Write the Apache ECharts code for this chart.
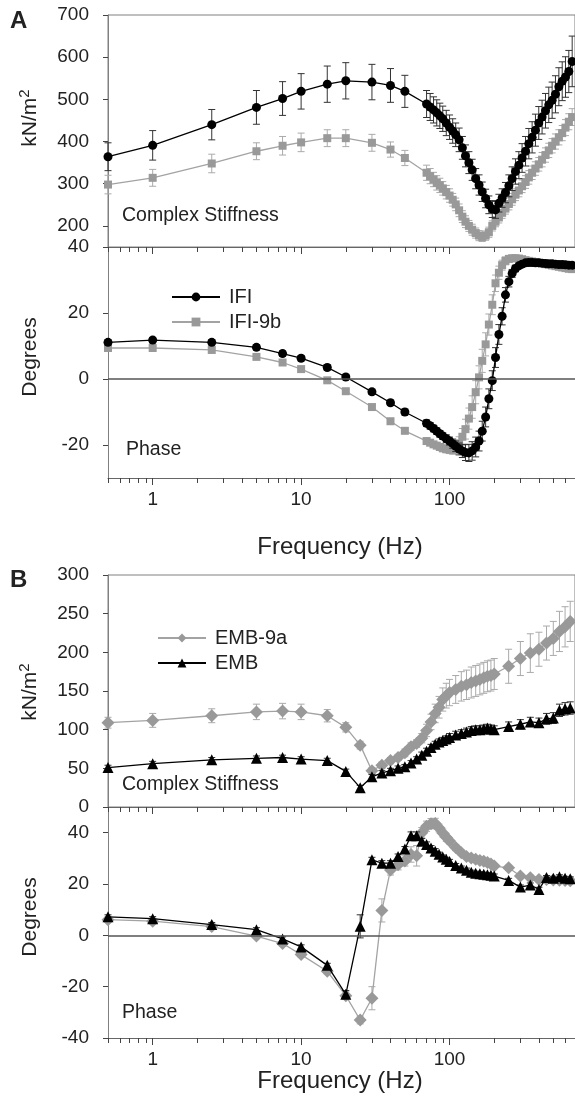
<!DOCTYPE html>
<html>
<head>
<meta charset="utf-8">
<title>Complex stiffness and phase</title>
<script src="https://cdn.jsdelivr.net/npm/echarts@6/dist/echarts.min.js"></script>
<style>
  html, body { margin: 0; padding: 0; background: #fff; }
  #chart { width: 575px; height: 1100px; }
</style>
</head>
<body>
<div id="chart"></div>
<script>
// ---- panel A: IFI / IFI-9b ----
const freqA = [0.5, 1, 2.5, 5, 7.5, 10, 15, 20, 30, 40, 50,
  70, 74, 78, 82, 86, 90, 95, 100, 105, 110,
  116, 122, 128, 135, 142, 150, 158, 166, 175, 184,
  194, 204, 215, 226, 238, 251, 264, 278, 293, 308,
  325, 342, 360, 379, 399, 420, 443, 466, 491, 517,
  545, 574, 604, 636, 670]

const ifiStiff = [364, 391, 440, 481, 502, 519, 536, 544, 541, 533, 519,
  489, 482, 475, 468, 461, 454, 444, 434, 425, 416,
  404, 385, 366, 350, 333, 312, 297, 281, 265, 250,
  240, 238, 254, 266, 279, 295, 312, 329, 344, 361,
  377, 395, 410, 427, 444, 458, 473, 487, 498, 512,
  530, 543, 553, 566, 590]
const ifiStiffErr = [33, 35, 36, 40, 40, 42, 43, 43, 42, 40, 38,
  32, 32, 31, 31, 30, 30, 30, 29, 29, 28,
  28, 27, 26, 26, 25, 24, 24, 23, 22, 21,
  20, 20, 21, 22, 24, 26, 28, 30, 32, 34,
  35, 36, 37, 38, 39, 40, 41, 42, 43, 44,
  45, 46, 48, 50, 60]

const ifi9bStiff = [298, 314, 348, 377, 390, 398, 408, 408, 397, 381, 361,
  326, 318, 310, 302, 296, 289, 280, 272, 262, 251,
  237, 222, 210, 200, 191, 183, 177, 174, 177, 185,
  200, 210, 220, 231, 241, 252, 263, 274, 284, 294,
  304, 315, 326, 336, 346, 357, 368, 379, 390, 400,
  410, 420, 433, 447, 458]
const ifi9bStiffErr = [22, 20, 22, 20, 22, 22, 20, 20, 20, 18, 18,
  18, 18, 17, 17, 17, 16, 16, 16, 15, 15,
  15, 14, 14, 13, 13, 12, 12, 11, 11, 12,
  12, 12, 13, 13, 13, 14, 14, 14, 15, 15,
  15, 16, 16, 16, 16, 17, 17, 17, 17, 18,
  18, 18, 19, 19, 20]

const ifiPhase = [11.1, 11.8, 11.1, 9.6, 7.7, 6.3, 3.5, 0.6, -3.9, -7.2, -10.0,
  -13.4, -14.2, -15.0, -15.8, -16.6, -17.3, -18.1, -18.8, -19.6, -20.4,
  -21.2, -21.8, -22.3, -22.4, -21.8, -20.6, -18.8, -15.8, -11.5, -6.0,
  -0.5, 6.5, 13.5, 19.0, 25.5, 29.5, 32.0, 33.5, 34.3, 34.8,
  35.2, 35.3, 35.3, 35.2, 35.2, 35.1, 35.0, 34.9, 34.9, 34.8,
  34.7, 34.7, 34.6, 34.5, 34.5]
const ifiPhaseErr = [0.8, 0.8, 0.8, 0.8, 0.8, 0.8, 0.8, 0.8, 0.8, 0.8, 0.9,
  1, 1, 1, 1, 1, 1, 1.2, 1.2, 1.4, 1.6,
  1.8, 2, 2.4, 2.6, 2.8, 3, 3, 3, 3, 3,
  3, 3, 3, 2.6, 2.2, 1.6, 1.2, 1, 0.8, 0.8,
  0.6, 0.6, 0.6, 0.6, 0.6, 0.6, 0.6, 0.6, 0.6, 0.6,
  0.6, 0.6, 0.6, 0.6, 0.6]

const ifi9bPhase = [9.4, 9.4, 8.8, 6.7, 5.0, 3.0, -0.4, -3.7, -8.5, -12.8, -15.7,
  -18.8, -19.3, -19.8, -20.2, -20.6, -21.0, -21.3, -21.4, -21.4, -21.0,
  -19.5, -17.5, -15.2, -12.0, -8.5, -4.0, 0.5, 5.5, 10.5, 16.5,
  22.5, 29.0, 32.2, 34.5, 35.8, 36.4, 36.6, 36.6, 36.5, 36.3,
  36.0, 35.8, 35.6, 35.4, 35.2, 35.0, 34.8, 34.6, 34.4, 34.2,
  34.0, 33.8, 33.6, 33.4, 33.3]
const ifi9bPhaseErr = [0.6, 0.6, 0.6, 0.6, 0.6, 0.6, 0.6, 0.6, 0.6, 0.6, 0.6,
  0.8, 0.8, 0.8, 0.8, 0.8, 1, 1, 1.2, 1.4, 1.6,
  2, 2.5, 3, 3.2, 3.4, 3.5, 3.5, 3.5, 3.5, 3.2,
  3, 2.5, 2, 1.5, 1.2, 1, 0.8, 0.8, 0.6, 0.6,
  0.6, 0.6, 0.6, 0.6, 0.6, 0.6, 0.6, 0.6, 0.6, 0.6,
  0.6, 0.6, 0.6, 0.6, 0.6]

// ---- panel B: EMB-9a / EMB ----
const freqB = [0.5, 1, 2.5, 5, 7.5, 10, 15, 20, 25, 30,
  35, 40, 45, 50, 55, 60, 65, 70, 75, 80,
  85, 90, 95, 100, 110, 120, 130, 140, 150, 160,
  170, 180, 190, 200, 250, 300, 350, 400, 450, 500,
  550, 600, 650]

const emb9aStiff = [109, 112, 118, 123, 124, 123, 118, 103, 80, 47,
  54, 60, 64, 70, 78, 82, 89, 99, 110, 121,
  129, 139, 144, 148, 152, 156, 158, 161, 163, 165,
  167, 169, 170, 172, 182, 192, 199, 204, 212, 218,
  227, 233, 240]
const emb9aStiffErr = [7, 9, 9, 10, 10, 10, 8, 6, 5, 4,
  4, 4, 4, 5, 5, 5, 6, 8, 10, 12,
  14, 15, 16, 17, 18, 19, 19, 20, 20, 20,
  20, 20, 20, 20, 22, 22, 25, 22, 22, 22,
  26, 26, 26]

const embStiff = [51, 56, 61, 63, 64, 62, 60, 46, 25, 39,
  44, 47, 50, 52, 57, 62, 67, 72, 77, 81,
  84, 86, 88, 90, 93, 95, 97, 99, 100, 100,
  101, 102, 101, 100, 104, 107, 110, 109, 114, 115,
  125, 127, 128]
const embStiffErr = [3, 3, 3, 3, 3, 3, 3, 3, 3, 3,
  3, 3, 3, 3, 3, 3, 4, 4, 4, 4,
  4, 4, 4, 5, 5, 5, 5, 5, 5, 5,
  5, 5, 5, 5, 6, 6, 6, 6, 7, 7,
  8, 8, 8]

const emb9aPhase = [6.1, 5.5, 3.4, -0.3, -3.2, -7.5, -14, -23.5, -33, -24.5,
  9.7, 25.5, 27.5, 29, 31.5, 31, 40, 42.5, 43.5, 43.6,
  41.8, 39.9, 38.2, 36.8, 34.2, 32.2, 30.7, 30.1, 29.6, 29.2,
  28.9, 28.4, 27.8, 27, 26.3, 23.1, 22.4, 21.8, 21.8, 21.6,
  21.5, 21.4, 21.3]
const emb9aPhaseErr = [1, 1, 1, 1, 1, 1, 1, 1.5, 1.5, 4.5,
  4.5, 2, 2, 2, 3, 4, 2, 2, 2, 2,
  1.5, 1.5, 1.5, 1.2, 1.2, 1, 1, 1, 1, 1,
  1, 1, 1, 1, 1, 1, 1, 1, 1, 1,
  1, 1, 1]

const embPhase = [7.2, 6.5, 4.2, 2.2, -1.4, -4.5, -11.7, -23, 3.5, 29.4,
  28.1, 28.1, 30.7, 33.6, 38.8, 38.8, 36.7, 35.4, 34, 32.8,
  31.6, 30.5, 29.6, 28.8, 27.2, 26.2, 25.4, 24.6, 24.2, 24,
  23.8, 23.6, 23.4, 23.1, 21.4, 18.8, 19.6, 17.9, 22.5, 22.2,
  22.8, 22.2, 22]
const embPhaseErr = [0.8, 0.8, 0.8, 0.8, 0.8, 0.8, 0.8, 1.5, 4.5, 1,
  1, 1, 1, 1, 1.5, 1.5, 1, 1, 1, 1,
  0.8, 0.8, 0.8, 0.8, 0.8, 0.8, 0.8, 0.8, 0.8, 0.8,
  0.8, 0.8, 0.8, 0.8, 0.8, 0.8, 0.8, 0.8, 0.8, 0.8,
  0.8, 0.8, 0.8]

// ---- tick labels ----
const xMajorTicks = [1, 10, 100]
const xMinorTicks = [0.5, 0.6, 0.7, 0.8, 0.9, 2, 3, 4, 5, 6, 7, 8, 9,
  20, 30, 40, 50, 60, 70, 80, 90, 200, 300, 400, 500, 600, 700]
const yTicksStiffA = [200, 300, 400, 500, 600, 700]
const yTicksPhaseA = [-20, 0, 20, 40]
const yTicksStiffB = [0, 50, 100, 150, 200, 250, 300]
const yTicksPhaseB = [-40, -20, 0, 20, 40]

const FONT = '"Liberation Sans", Arial, sans-serif'
const TEXT = '#222'
const AXIS = '#808080'
const TICK = '#444'
const BLACK = '#000'
const GRAY = '#999'
const GRAY_LINE = '#a3a3a3'

const pairs = (freq, vals) => freq.map((f, i) => [f, vals[i]])
const bars = (freq, vals, err) => freq.map((f, i) => [f, vals[i] - err[i], vals[i] + err[i]])

// two log axes per grid: one for the decades (with labels), one for the minor ticks
function xAxes(grid, labelled) {
  return [{
    type: 'log', logBase: 10, gridIndex: grid, min: 0.5, max: 700, position: 'bottom',
    axisLine: { show: true, onZero: false, lineStyle: { color: '#666', width: 1 } },
    axisTick: { show: true, length: 7, customValues: xMajorTicks, lineStyle: { color: TICK, width: 1 } },
    axisLabel: { show: labelled, customValues: xMajorTicks, fontSize: 19, color: TEXT, fontFamily: FONT, margin: 12 },
    splitLine: { show: false }
  }, {
    type: 'log', logBase: 10, gridIndex: grid, min: 0.5, max: 700, position: 'bottom',
    axisLine: { show: false, onZero: false },
    axisTick: { show: true, length: 5, customValues: xMinorTicks, lineStyle: { color: TICK, width: 1 } },
    axisLabel: { show: false, customValues: xMinorTicks },
    splitLine: { show: false }
  }]
}

function yAxis(grid, min, max, ticks) {
  return {
    type: 'value', gridIndex: grid, min, max,
    axisLine: { show: true, onZero: false, lineStyle: { color: AXIS, width: 1 } },
    axisTick: { show: true, length: 5, customValues: ticks, lineStyle: { color: TICK, width: 1 } },
    axisLabel: { customValues: ticks, fontSize: 19, color: TEXT, fontFamily: FONT, margin: 19 },
    splitLine: { show: false }
  }
}

function lineSeries(name, grid, data, symbol, size, color, lineColor, z, extra) {
  return Object.assign({
    type: 'line', name, xAxisIndex: grid * 2, yAxisIndex: grid, data,
    symbol, symbolSize: size, showAllSymbol: true,
    itemStyle: { color, borderWidth: 0 },
    lineStyle: { color: lineColor, width: 1.3 },
    emphasis: { disabled: true },
    z
  }, extra || {})
}

// error bars with caps, placed through the axes of the grid
function errorSeries(grid, data, color, z) {
  return {
    type: 'custom', xAxisIndex: grid * 2, yAxisIndex: grid, data, z, silent: true,
    encode: { x: 0, y: [1, 2] },
    renderItem: (params, api) => {
      const x = api.value(0)
      const top = api.coord([x, api.value(2)])
      const bot = api.coord([x, api.value(1)])
      const w = 3.5
      const style = { stroke: color, lineWidth: 1 }
      return {
        type: 'group',
        children: [
          { type: 'line', shape: { x1: top[0], y1: top[1], x2: bot[0], y2: bot[1] }, style },
          { type: 'line', shape: { x1: top[0] - w, y1: top[1], x2: top[0] + w, y2: top[1] }, style },
          { type: 'line', shape: { x1: bot[0] - w, y1: bot[1], x2: bot[0] + w, y2: bot[1] }, style }
        ]
      }
    }
  }
}

const zeroLine = {
  markLine: {
    silent: true, symbol: 'none', label: { show: false },
    lineStyle: { color: '#555', width: 1.5, type: 'solid' },
    data: [{ yAxis: 0 }]
  }
}

function text(x, y, str, size, opts) {
  const o = opts || {}
  return {
    type: 'text', x, y, rotation: o.rotate ? Math.PI / 2 : 0, silent: true,
    style: {
      text: str, fill: TEXT, fontSize: size, fontFamily: FONT,
      fontWeight: o.bold ? 'bold' : 'normal',
      align: o.align || 'left', textAlign: o.align || 'left',
      verticalAlign: 'middle', textVerticalAlign: 'middle',
      rich: o.rich
    }
  }
}

const unitRich = {
  a: { fontSize: 21, fontFamily: FONT, fill: TEXT, lineHeight: 26 },
  b: { fontSize: 15, fontFamily: FONT, fill: TEXT, verticalAlign: 'top', lineHeight: 26 }
}

const chart = echarts.init(document.getElementById('chart'), null, { renderer: 'canvas' })

const legendBase = {
  orient: 'vertical', itemWidth: 48, itemHeight: 11, itemGap: 5,
  textStyle: { fontSize: 20, color: TEXT, fontFamily: FONT, padding: [0, 0, 0, 4] },
  selectedMode: false
}

chart.setOption({
  animation: false,
  backgroundColor: '#fff',
  grid: [
    { left: 108, top: 15, width: 469, height: 232, show: true, borderColor: AXIS, borderWidth: 1 },
    { left: 108, top: 247, width: 469, height: 231 },
    { left: 108, top: 575, width: 469, height: 232, show: true, borderColor: AXIS, borderWidth: 1 },
    { left: 108, top: 807, width: 469, height: 231 }
  ],
  xAxis: [...xAxes(0, false), ...xAxes(1, true), ...xAxes(2, false), ...xAxes(3, true)],
  yAxis: [
    yAxis(0, 150, 700, yTicksStiffA),
    yAxis(1, -30, 40, yTicksPhaseA),
    yAxis(2, 0, 300, yTicksStiffB),
    yAxis(3, -40, 50, yTicksPhaseB)
  ],
  legend: [
    Object.assign({ data: ['IFI', 'IFI-9b'], left: 166, top: 282 }, legendBase),
    Object.assign({ data: ['EMB-9a', 'EMB'], left: 152, top: 623, itemWidth: 56 }, legendBase)
  ],
  series: [
    // A: complex stiffness
    errorSeries(0, bars(freqA, ifi9bStiff, ifi9bStiffErr), '#aaa', 1),
    lineSeries('IFI-9b', 0, pairs(freqA, ifi9bStiff), 'rect', 8, GRAY, GRAY_LINE, 2),
    errorSeries(0, bars(freqA, ifiStiff, ifiStiffErr), '#333', 3),
    lineSeries('IFI', 0, pairs(freqA, ifiStiff), 'circle', 9, BLACK, BLACK, 4),
    // A: phase
    errorSeries(1, bars(freqA, ifi9bPhase, ifi9bPhaseErr), '#aaa', 1),
    lineSeries('IFI-9b', 1, pairs(freqA, ifi9bPhase), 'rect', 8, GRAY, GRAY_LINE, 2, zeroLine),
    errorSeries(1, bars(freqA, ifiPhase, ifiPhaseErr), '#333', 3),
    lineSeries('IFI', 1, pairs(freqA, ifiPhase), 'circle', 9, BLACK, BLACK, 4),
    // B: complex stiffness
    errorSeries(2, bars(freqB, emb9aStiff, emb9aStiffErr), '#aaa', 1),
    lineSeries('EMB-9a', 2, pairs(freqB, emb9aStiff), 'diamond', 13, GRAY, GRAY_LINE, 2),
    errorSeries(2, bars(freqB, embStiff, embStiffErr), '#333', 3),
    lineSeries('EMB', 2, pairs(freqB, embStiff), 'triangle', 11, BLACK, BLACK, 4),
    // B: phase
    errorSeries(3, bars(freqB, emb9aPhase, emb9aPhaseErr), '#aaa', 1),
    lineSeries('EMB-9a', 3, pairs(freqB, emb9aPhase), 'diamond', 13, GRAY, GRAY_LINE, 2, zeroLine),
    errorSeries(3, bars(freqB, embPhase, embPhaseErr), '#333', 3),
    lineSeries('EMB', 3, pairs(freqB, embPhase), 'triangle', 11, BLACK, BLACK, 4)
  ],
  graphic: [
    text(10, 21, 'A', 24, { bold: true }),
    text(10, 580, 'B', 24, { bold: true }),
    text(30, 118, '{a|kN/m}{b|2}', 21, { rotate: true, align: 'center', rich: unitRich }),
    text(30, 357, 'Degrees', 21, { rotate: true, align: 'center' }),
    text(30, 692, '{a|kN/m}{b|2}', 21, { rotate: true, align: 'center', rich: unitRich }),
    text(30, 917, 'Degrees', 21, { rotate: true, align: 'center' }),
    text(122, 216, 'Complex Stiffness', 19.5),
    text(126, 450, 'Phase', 19.5),
    text(122, 785, 'Complex Stiffness', 19.5),
    text(122, 1013, 'Phase', 19.5),
    text(340, 547, 'Frequency (Hz)', 24, { align: 'center' }),
    text(340, 1081, 'Frequency (Hz)', 24, { align: 'center' })
  ]
})
</script>
</body>
</html>
